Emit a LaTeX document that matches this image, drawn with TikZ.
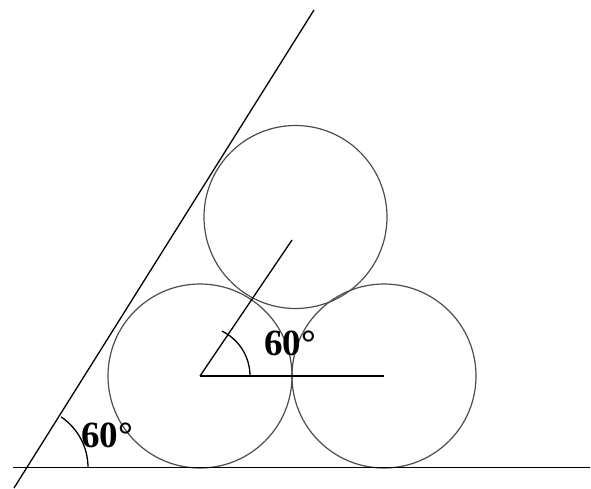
\documentclass[tikz,border=0pt]{standalone}
\usepackage{fontspec}
\setmainfont{Liberation Serif}
\begin{document}
\begin{tikzpicture}[x=1pt,y=-1pt,
  ball/.style={draw=black!70,line width=1.2pt},
  stroke/.style={draw=black,line width=1.3pt},
  lbl/.style={font=\fontsize{37}{40}\selectfont\bfseries,inner sep=0pt,anchor=base west}]
\useasboundingbox (0,0) rectangle (591,488);
% circles
\coordinate (cl) at (200,376);
\coordinate (cr) at (384,376);
\coordinate (ct) at (295.5,217);
\draw[ball] (cl) circle (92);
\draw[ball] (cr) circle (92);
\draw[ball] (ct) circle (91.5);
% ground and incline
\coordinate (g1) at (13,467.5);
\coordinate (g2) at (590,467.5);
\coordinate (i1) at (14,488);
\coordinate (i2) at (314,10);
\draw[stroke] (g1) -- (g2);
\draw[stroke] (i1) -- (i2);
% center lines
\coordinate (h2) at (384,376);
\coordinate (t2) at (292,240);
\draw[stroke] (cl) -- (h2);
\draw[stroke] (cl) -- (t2);
% angle arcs
\draw[stroke] (250,376) arc[start angle=0,end angle=-64,radius=50];
\coordinate (gp) at (27,467.5);
\draw[stroke] (88,467.5) arc[start angle=0,end angle=-56,radius=61];
% labels
\node[lbl] (a1) at (264,355) {60°};
\node[lbl] (a2) at (81,447) {60°};
\end{tikzpicture}
\end{document}
